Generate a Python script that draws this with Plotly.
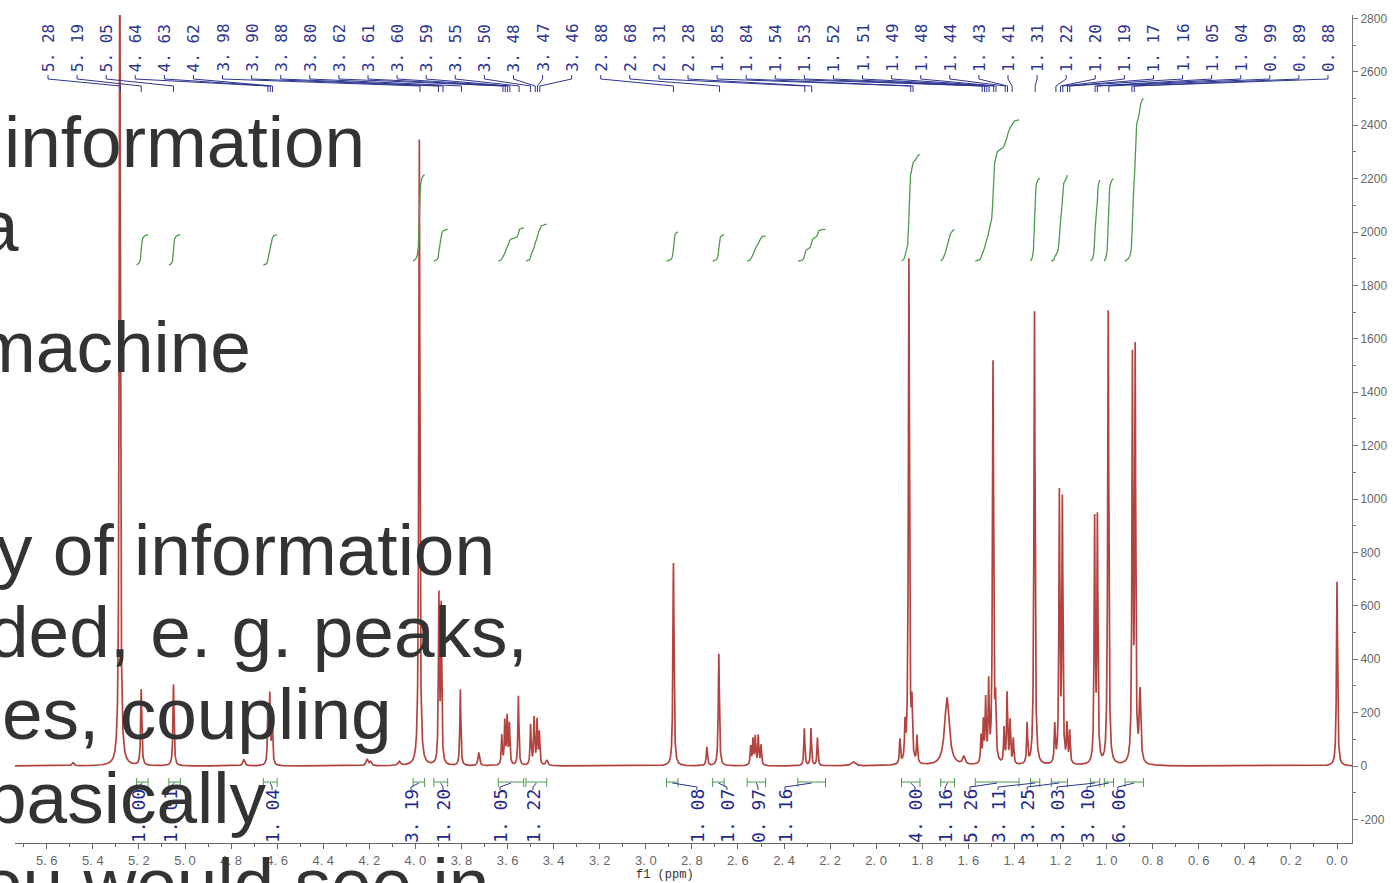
import numpy as np
import plotly.graph_objects as go

# ---------------- data ----------------
peak_ppm = [5.486, 5.283, 5.190, 5.050, 4.745, 4.640, 4.632, 4.622, 4.210, 4.195, 4.070,
            3.983, 3.898, 3.888, 3.805, 3.725, 3.625, 3.612, 3.602, 3.592, 3.553,
            3.500, 3.485, 3.472, 3.462, 3.430,
            2.880, 2.735, 2.683, 2.545, 2.535, 2.525, 2.512, 2.500,
            2.312, 2.283, 2.255, 2.100,
            1.897, 1.875, 1.858, 1.845, 1.823, 1.693, 1.620,
            1.545, 1.535, 1.525, 1.512, 1.493, 1.482, 1.445, 1.432, 1.419, 1.405,
            1.345, 1.313, 1.225, 1.205, 1.192, 1.172, 1.160,
            1.052, 1.040, 0.993, 0.888, 0.876, 0.855, 0.000]
peak_height = [12, 3300, 285, 305, 25, 200, 250, 190, 25, 15, 15,
               2345, 620, 580, 285, 50, 110, 160, 175, 150, 260,
               150, 175, 165, 120, 20,
               760, 70, 420, 70, 95, 105, 110, 75,
               140, 140, 105, 15,
               90, 130, 1890, 190, 100, 255, 30,
               100, 150, 230, 290, 1500, 195, 130, 262, 160, 95,
               150, 1700, 140, 1000, 975, 140, 120,
               900, 905, 1700, 1490, 1515, 265, 690]
peak_hwhm = [0.005, 0.0028, 0.0028, 0.0028, 0.005, 0.0025, 0.0025, 0.0025, 0.005, 0.005, 0.006,
             0.0028, 0.0025, 0.0025, 0.0025, 0.004, 0.0025, 0.0025, 0.0025, 0.0025, 0.0025,
             0.0025, 0.0025, 0.0025, 0.0025, 0.005,
             0.0028, 0.003, 0.0028, 0.0025, 0.0025, 0.0025, 0.0025, 0.0025,
             0.0025, 0.0025, 0.0025, 0.01,
             0.0025, 0.0025, 0.0028, 0.0025, 0.0025, 0.012, 0.006,
             0.0025, 0.0025, 0.0025, 0.0025, 0.0028, 0.0025, 0.0025, 0.0025, 0.0025, 0.0025,
             0.0025, 0.0028, 0.0025, 0.0025, 0.0025, 0.0025, 0.0025,
             0.0025, 0.0025, 0.0028, 0.0025, 0.0025, 0.004, 0.0028]

peak_labels = [5.28, 5.19, 5.05, 4.64, 4.63, 4.62, 3.98, 3.90, 3.88, 3.80, 3.62, 3.61, 3.60,
               3.59, 3.55, 3.50, 3.48, 3.47, 3.46,
               2.88, 2.68, 2.31, 2.28, 1.85, 1.84, 1.54, 1.53, 1.52, 1.51, 1.49, 1.48, 1.44,
               1.43, 1.41, 1.31, 1.22, 1.20, 1.19, 1.17, 1.16, 1.05, 1.04, 0.99, 0.89, 0.88]

int_values = [1.00, 1.01, 1.04, 3.19, 1.20, 1.05, 1.22, 1.08, 1.07, 0.97, 1.16,
              4.00, 1.16, 5.26, 3.11, 3.25, 3.03, 3.10, 6.06]
int_start = [5.21, 5.07, 4.66, 4.01, 3.92, 3.64, 3.52, 2.91, 2.71, 2.56, 2.34,
             1.89, 1.72, 1.57, 1.33, 1.24, 1.07, 1.01, 0.92]
int_end = [5.16, 5.02, 4.60, 3.96, 3.86, 3.53, 3.43, 2.86, 2.66, 2.48, 2.22,
           1.81, 1.66, 1.38, 1.29, 1.17, 1.03, 0.97, 0.84]
int_base = [1876, 1876, 1876, 1891, 1891, 1891, 1891, 1891, 1891, 1891, 1891,
            1891, 1891, 1891, 1891, 1891, 1891, 1891, 1891]
int_top = [1990, 1990, 1990, 2215, 2010, 2015, 2030, 2000, 1990, 1985, 2010,
           2290, 2010, 2420, 2202, 2213, 2195, 2200, 2500]
int_label_ppm = [5.204, 5.065, 4.622, 4.019, 3.880, 3.633, 3.490, 2.778, 2.648, 2.513, 2.396,
                 1.832, 1.701, 1.593, 1.471, 1.345, 1.215, 1.085, 0.951]

x_ticks = [5.6, 5.4, 5.2, 5.0, 4.8, 4.6, 4.4, 4.2, 4.0, 3.8, 3.6, 3.4, 3.2, 3.0, 2.8, 2.6,
           2.4, 2.2, 2.0, 1.8, 1.6, 1.4, 1.2, 1.0, 0.8, 0.6, 0.4, 0.2, 0.0]
y_ticks = [-200, 0, 200, 400, 600, 800, 1000, 1200, 1400, 1600, 1800, 2000, 2200, 2400,
           2600, 2800]

slide_lines = ["information", "a", "machine", "y of information", "ded, e. g. peaks,",
               "es, coupling", "basically", "ou would see in"]

# ---------------- layout geometry (page pixels) ----------------
W, H = 1393, 883
L, R, T, B = 15, 1352, 15, 843
PX0, PXS = 1337.0, 230.4      # pixel of 0 ppm, pixels per ppm
PY0, PYS = 766.0, 0.267       # pixel of intensity 0, pixels per unit


def px_ppm(px):
    return (PX0 - px) / PXS


def py_val(py):
    return (PY0 - py) / PYS


def px_paper(px):
    return (px - L) / (R - L)


def py_paper(py):
    return (B - py) / (B - T)


# ---------------- spectrum ----------------
xg = np.linspace(px_ppm(L), px_ppm(R), 14000)
xg = np.unique(np.concatenate([xg, np.array(peak_ppm)]))[::-1]
yg = np.zeros_like(xg)
for p, h, w in zip(peak_ppm, peak_height, peak_hwhm):
    yg += h / (1.0 + ((xg - p) / w) ** 2)

fig = go.Figure()
fig.add_trace(go.Scatter(x=xg, y=yg, mode="lines",
                         line=dict(color="#b3433f", width=1.7),
                         hoverinfo="skip", showlegend=False))

# ---------------- integral curves ----------------
ix, iy = [], []
for s, e, b0, t0 in zip(int_start, int_end, int_base, int_top):
    m = (xg <= s) & (xg >= e)
    xs = xg[m]
    cs = np.cumsum(yg[m])
    cs = (cs - cs[0]) / (cs[-1] - cs[0])
    ix += list(xs) + [None]
    iy += list(b0 + cs * (t0 - b0)) + [None]
fig.add_trace(go.Scatter(x=ix, y=iy, mode="lines", line=dict(color="#4f9a4f", width=1.3),
                         hoverinfo="skip", showlegend=False))

# integral brackets
bx, by = [], []
for s, e in zip(int_start, int_end):
    bx += [s, s, None, s, e, None, e, e, None]
    by += [py_val(778), py_val(787), None, py_val(782), py_val(782), None,
           py_val(778), py_val(787), None]
fig.add_trace(go.Scatter(x=bx, y=by, mode="lines", line=dict(color="#4f9a4f", width=1),
                         hoverinfo="skip", showlegend=False))

# integral label leaders
lx, ly = [], []
for s, e, lp in zip(int_start, int_end, int_label_ppm):
    c = (s + e) / 2
    lx += [lp, lp, c, None]
    ly += [py_val(790), py_val(787), py_val(783), None]
fig.add_trace(go.Scatter(x=lx, y=ly, mode="lines", line=dict(color="#2d3590", width=1),
                         hoverinfo="skip", showlegend=False))

# ---------------- peak labels ----------------
n = len(peak_labels)
annotations = []
kx, ky = [], []
for i, v in enumerate(peak_labels):
    px = 48 + i * (1328 - 48) / (n - 1)
    lp = px_ppm(px)
    annotations.append(dict(x=lp, y=py_val(74), xref="x", yref="y", text=f"{v:.2f}".replace(".", ". "),
                            textangle=-90, xanchor="center", yanchor="bottom", showarrow=False,
                            font=dict(family="DejaVu Sans Mono", size=16, color="#2d3590")))
    kx += [lp, lp, v, v, None]
    ky += [py_val(75), py_val(79), py_val(86), py_val(92), None]
fig.add_trace(go.Scatter(x=kx, y=ky, mode="lines", line=dict(color="#2d3590", width=1),
                         hoverinfo="skip", showlegend=False))

for v, lp in zip(int_values, int_label_ppm):
    annotations.append(dict(x=lp, y=py_val(787), xref="x", yref="y", text=f"{v:.2f}".replace(".", ". "),
                            textangle=-90, xanchor="center", yanchor="top", showarrow=False,
                            font=dict(family="DejaVu Sans Mono", size=18, color="#1f2a86")))

annotations.append(dict(x=px_paper(665), y=py_paper(875), xref="paper", yref="paper",
                        text="f1 (ppm)", showarrow=False, xanchor="center", yanchor="middle",
                        font=dict(family="Liberation Mono", size=12, color="#333333")))

# ---------------- overlaid slide text ----------------
slide_pos = [(2, 166), (-24, 250), (-27, 371), (-6, 574), (-14, 656), (0, 738), (-16, 822), (-20, 908)]
for txt, (lx0, base) in zip(slide_lines, slide_pos):
    annotations.append(dict(x=px_paper(lx0), y=py_paper(base - 25), xref="paper", yref="paper",
                            text=txt, showarrow=False, xanchor="left", yanchor="middle",
                            font=dict(family="Liberation Sans", size=73, color="#333333")))

fig.update_layout(
    width=W, height=H,
    margin=dict(l=L, r=W - R, t=T, b=H - B, pad=0),
    paper_bgcolor="white", plot_bgcolor="white",
    showlegend=False,
    annotations=annotations,
    xaxis=dict(range=[px_ppm(L), px_ppm(R)], tickmode="array", tickvals=x_ticks,
               ticktext=[f"{t:.1f}".replace(".", ". ") for t in x_ticks],
               ticks="outside", ticklen=5, tickcolor="#666", showline=True, linecolor="#666",
               linewidth=1, showgrid=False, zeroline=False, automargin=False,
               tickfont=dict(family="Liberation Sans", size=13, color="#666"),
               minor=dict(dtick=0.1, tick0=0, ticks="outside", ticklen=3, tickcolor="#666")),
    yaxis=dict(range=[py_val(B), py_val(T)], side="right", tickmode="array", tickvals=y_ticks,
               ticktext=[str(t) for t in y_ticks], ticks="outside", ticklen=5, tickcolor="#777",
               showline=True, linecolor="#777", linewidth=1, showgrid=False, zeroline=False,
               automargin=False, tickfont=dict(family="Liberation Sans", size=12, color="#666"),
               minor=dict(dtick=100, tick0=0, ticks="outside", ticklen=3, tickcolor="#777")),
)

fig.write_html("out.html", config={"displayModeBar": False},
               post_script="document.body.style.margin='0px';document.body.style.overflow='hidden';")
